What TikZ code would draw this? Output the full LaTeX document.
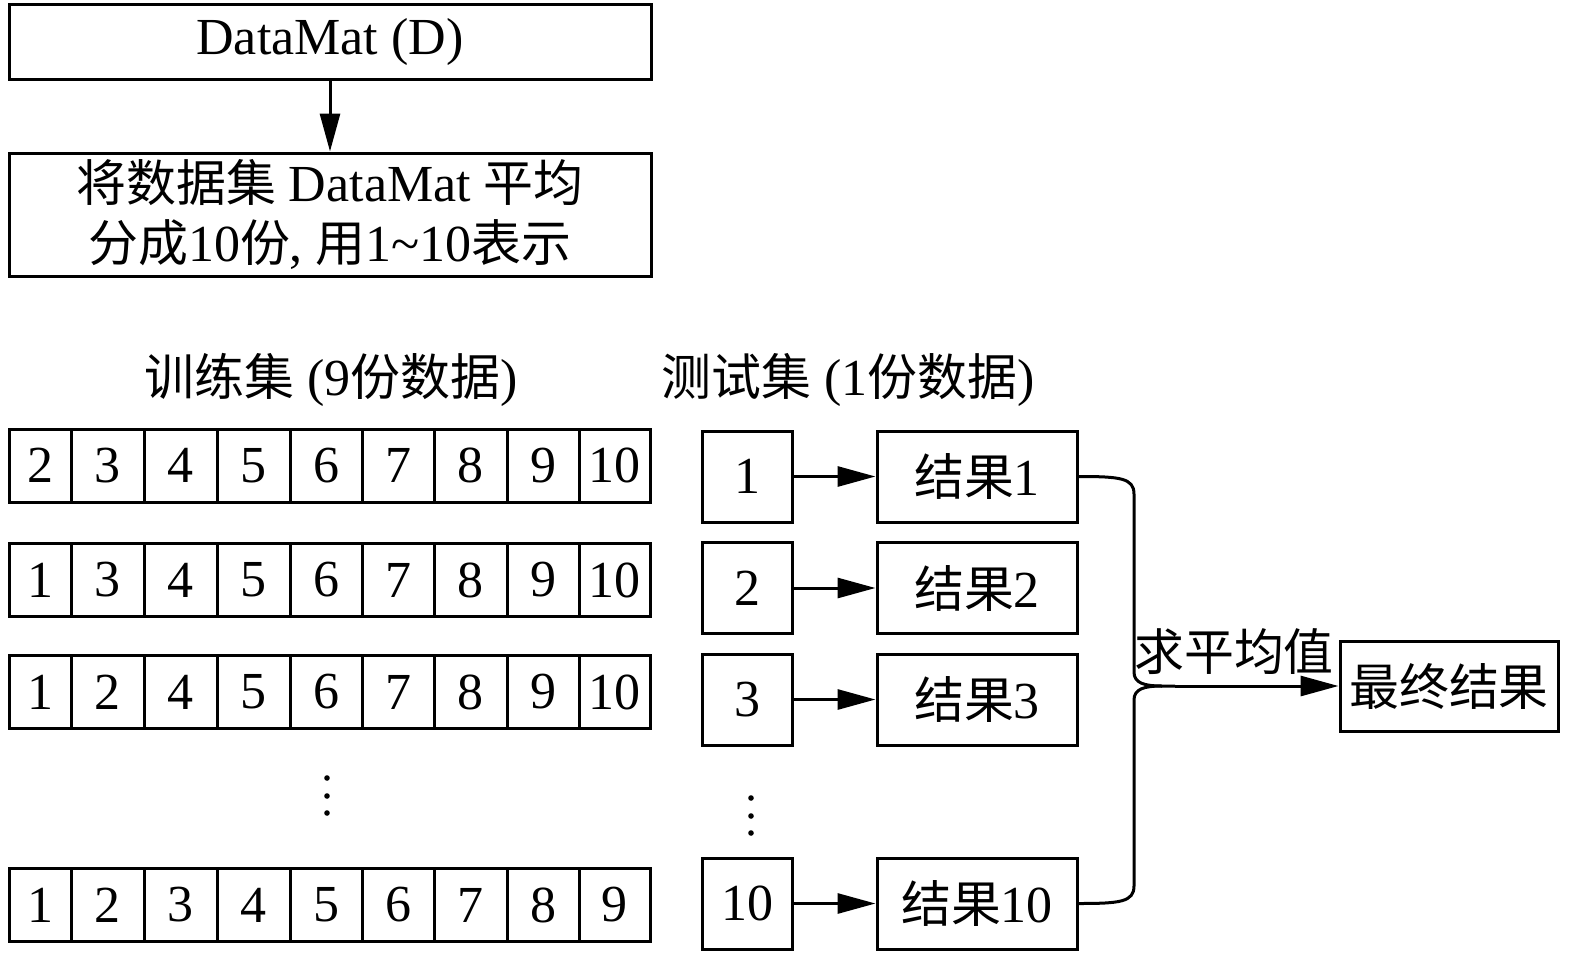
\documentclass[tikz,border=0pt]{standalone}
\usepackage{fontspec}
\setmainfont{Liberation Serif}
\newfontfamily\cjk[Scale=0.96]{Noto Sans CJK SC}
\newcommand\zh[1]{{\cjk #1}}
\usetikzlibrary{arrows.meta,calc}
\begin{document}
\begin{tikzpicture}[x=0.5pt,y=-0.5pt, line width=1.5pt,
  font=\fontsize{26}{30}\selectfont,
  box/.style={draw, inner sep=0pt, align=center},
  arr/.style={-{Triangle[length=19pt,width=10pt]}},
  dotn/.style={circle, fill, inner sep=0pt, minimum size=2.8pt}]
\useasboundingbox (0,0) rectangle (1575,959);

% top boxes
\node[box, minimum width=321pt, minimum height=37.5pt] (top) at (330,41.5) {DataMat (D)};
\node[box, minimum width=321pt, minimum height=61.5pt] (split) at (330,214.5)
  {\zh{将数据集} DataMat \zh{平均}\\\zh{分成}10\zh{份}, \zh{用}1\textasciitilde10\zh{表示}};
\draw[arr] (top) -- (split);

% labels
\node (trainlbl) at (331,380) {\zh{训练集} (9\zh{份数据})};
\node (testlbl) at (848,380) {\zh{测试集} (1\zh{份数据})};

% training rows
\def\xb{{9,71,144,217,290,362,434,507,579,650}}
\foreach \r/\yc/\lst in {1/465.5/{2,3,4,5,6,7,8,9,10},
                         2/580/{1,3,4,5,6,7,8,9,10},
                         3/692/{1,2,4,5,6,7,8,9,10},
                         4/905/{1,2,3,4,5,6,7,8,9}} {
  \foreach \v [count=\i] in \lst {
    \pgfmathsetmacro\xl{\xb[\i-1]}
    \pgfmathsetmacro\xr{\xb[\i]}
    \pgfmathsetmacro\w{(\xr-\xl)/2}
    \pgfmathsetmacro\xc{(\xr+\xl)/2}
    \node[box, minimum width=\w pt, minimum height=36.5pt] (c\r-\i) at (\xc,\yc) {\v};
  }
}

% dots
\node[dotn] (d1) at (327,778) {};
\node[dotn] (d2) at (327,796) {};
\node[dotn] (d3) at (327,813) {};
\node[dotn] (d4) at (751,798) {};
\node[dotn] (d5) at (751,816) {};
\node[dotn] (d6) at (751,833) {};

% test and result boxes
\foreach \n/\yc in {1/476.5, 2/588, 3/699.5, 10/903.5} {
  \node[box, minimum width=45pt, minimum height=45.5pt] (t\n) at (747,\yc) {\n};
  \node[box, minimum width=100pt, minimum height=45.5pt] (r\n) at (977,\yc) {\zh{结果}\n};
  \draw[arr] (t\n) -- (r\n);
}

% final
\node[box, minimum width=109pt, minimum height=45pt] (fin) at (1449,686) {\zh{最终结果}};
\coordinate (j) at (1175,686);
\draw (r1.east) .. controls (1120,476.5) and (1134,478) .. (1134,494)
  -- (1134,672) .. controls (1134,683) and (1144,686) .. (1162,686) -- (j);
\draw (r10.east) .. controls (1120,903.5) and (1134,902) .. (1134,886)
  -- (1134,700) .. controls (1134,689) and (1144,686) .. (1162,686);
\draw[arr] (j) -- (fin);
\node (avg) at (1234,652) {\zh{求平均值}};
\end{tikzpicture}
\end{document}
